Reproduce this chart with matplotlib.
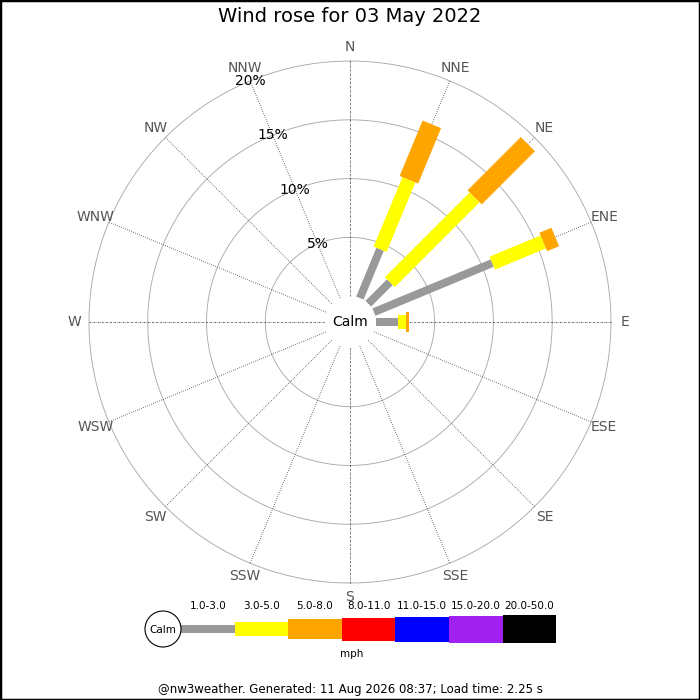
import numpy as np
import matplotlib
matplotlib.use('Agg')
from matplotlib import pyplot as plt
from matplotlib.patches import Circle, Rectangle

# directions and cumulative frequencies (%) per speed bin
directions = ['N', 'NNE', 'NE', 'ENE', 'E', 'ESE', 'SE', 'SSE',
              'S', 'SSW', 'SW', 'WSW', 'W', 'WNW', 'NW', 'NNW']
# cumulative % at the end of each bin: 1-3, 3-5, 5-8 mph
gray_end = [0, 4.5, 2.6, 10.9, 1.9, 0, 0, 0, 0, 0, 0, 0, 0, 0, 0, 0]
yellow_end = [0, 10.9, 12.8, 15.6, 2.6, 0, 0, 0, 0, 0, 0, 0, 0, 0, 0, 0]
orange_end = [0, 16.0, 19.2, 16.7, 2.8, 0, 0, 0, 0, 0, 0, 0, 0, 0, 0, 0]

speed_bins = ['1.0-3.0', '3.0-5.0', '5.0-8.0', '8.0-11.0', '11.0-15.0', '15.0-20.0', '20.0-50.0']
bin_colors = ['#999999', '#ffff00', '#ffa500', '#ff0000', '#0000ff', '#a020f0', '#000000']
bin_widths = [8, 14, 20, 23, 25, 27, 28]  # px
rings = [5, 10, 15, 20]

fig = plt.figure(figsize=(7, 7), dpi=100)
px = 0.72  # points per pixel

# ----- rose -----
ax = fig.add_axes([0.1271, 0.1671, 0.7457, 0.7457], projection='polar')
ax.set_theta_zero_location('N')
ax.set_theta_direction(-1)
ax.set_rorigin(-2.2)
ax.set_ylim(0, 20)
ax.axis('off')

theta = np.deg2rad(np.arange(16) * 22.5)
tt = np.linspace(0, 2 * np.pi, 400)
for r in rings:
    ax.plot(tt, np.full_like(tt, r), color='#aaaaaa', lw=0.65, zorder=1, clip_on=False)

for i, d in enumerate(directions):
    if i % 4 == 0:
        ls = (0, (2, 1.2, 0.6, 1.2))
    else:
        ls = (0, (1, 1.6))
    ax.plot([theta[i], theta[i]], [0, 20], color='#444444', lw=0.6, ls=ls, zorder=2,
            clip_on=False)
    ax.text(theta[i], 21.2, d, ha='center', va='center', fontsize=10, color='#555555')

for r in rings:
    ax.text(np.deg2rad(-22.5), r, '%d%%' % r, ha='center', va='center', fontsize=10,
            color='black', zorder=6)

for i in range(16):
    segs = [(0, gray_end[i]), (gray_end[i], yellow_end[i]), (yellow_end[i], orange_end[i])]
    for k, (r0, r1) in enumerate(segs):
        if r1 > r0:
            ax.plot([theta[i], theta[i]], [r0, r1], color=bin_colors[k],
                    lw=bin_widths[k] * px, solid_capstyle='butt', zorder=4 + k * 0.1)

calm = Circle((0.5, 0.5), 24 / 522, transform=ax.transAxes, facecolor='white',
              edgecolor='#888888', lw=0.7, zorder=5)
ax.add_artist(calm)
ax.text(0.5, 0.5, 'Calm', transform=ax.transAxes, ha='center', va='center',
        fontsize=10, zorder=6)

# ----- legend (pixel coords) -----
lg = fig.add_axes([0, 0, 1, 1], facecolor='none')
lg.set_xlim(0, 700)
lg.set_ylim(700, 0)
lg.axis('off')

seg_w = 53.6
x0 = 181
lefts = x0 + seg_w * np.arange(len(speed_bins))
cy = 629
lg.bar(lefts, bin_widths, width=seg_w, bottom=cy - np.array(bin_widths) / 2,
       color=bin_colors, align='edge', zorder=2)
for i, lab in enumerate(speed_bins):
    lg.text(lefts[i] + seg_w / 2, 606, lab, ha='center', va='center', fontsize=7.5)
lg.add_patch(Circle((163, cy), 18, facecolor='white', edgecolor='black', lw=0.8, zorder=3))
lg.text(163, cy + 1, 'Calm', ha='center', va='center', fontsize=7.5, zorder=4)
lg.text(352, 654, 'mph', ha='center', va='center', fontsize=7.5)

fig.text(0.5, 1 - 17 / 700, 'Wind rose for 03 May 2022', ha='center', va='center', fontsize=14)
fig.text(0.5, 1 - 690 / 700, '@nw3weather. Generated: 11 Aug 2026 08:37; Load time: 2.25 s',
         ha='center', va='center', fontsize=8.5)

fig.patches.append(Rectangle((0, 0), 1, 1, transform=fig.transFigure, fill=False,
                             edgecolor='black', lw=2.5))

fig.savefig('out.png', dpi=100)
